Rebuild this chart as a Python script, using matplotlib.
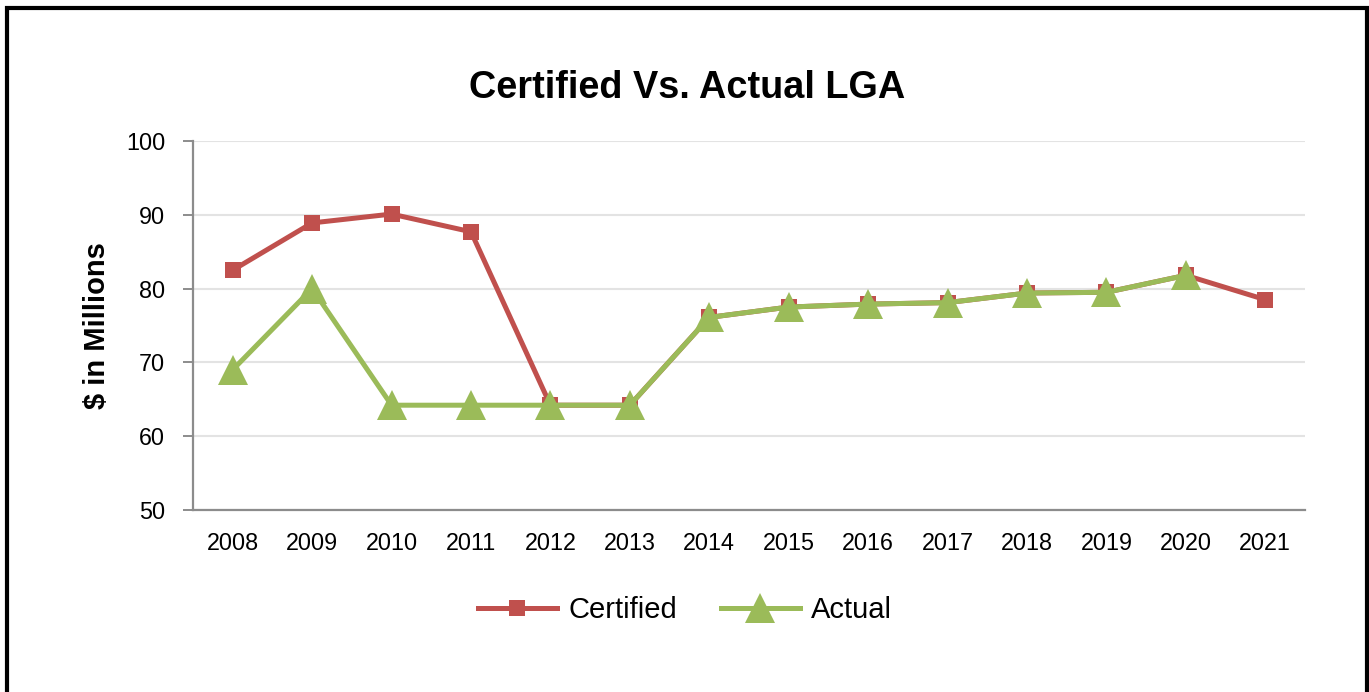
import matplotlib
matplotlib.use("Agg")
import matplotlib.pyplot as plt
from matplotlib.patches import Rectangle

plt.rcParams['font.family'] = ['Liberation Sans', 'DejaVu Sans']

years = ['2008', '2009', '2010', '2011', '2012', '2013', '2014',
         '2015', '2016', '2017', '2018', '2019', '2020', '2021']
certified = [82.5, 88.9, 90.1, 87.7, 64.2, 64.2, 76.1,
             77.5, 77.9, 78.1, 79.4, 79.5, 81.8, 78.5]
actual = [69.0, 80.0, 64.2, 64.2, 64.2, 64.2, 76.1,
          77.5, 77.9, 78.1, 79.4, 79.5, 81.8]
y_ticks = [50, 60, 70, 80, 90, 100]

W, H, DPI = 1369, 692, 100
fig = plt.figure(figsize=(W / DPI, H / DPI), dpi=DPI)
fig.patch.set_facecolor('white')

ax = fig.add_axes([193 / W, 1 - 510 / H, (1305 - 193) / W, (510 - 141) / H])

red = '#C0504D'
green = '#9BBB59'

x_c = list(range(len(certified)))
x_a = list(range(len(actual)))
ax.plot(x_c, certified, color=red, lw=3.6, marker='s', markersize=11,
        markeredgewidth=0, label='Certified', zorder=3)
ax.plot(x_a, actual, color=green, lw=3.6, marker='^', markersize=22,
        markeredgewidth=0, label='Actual', zorder=4)

ax.set_xlim(-0.5, len(years) - 0.5)
ax.set_ylim(50, 100)
ax.set_yticks(y_ticks)
ax.set_xticks(range(len(years)))
ax.set_xticklabels(years)
ax.grid(axis='y', color='#E3E3E3', lw=1.5, zorder=0)
ax.set_axisbelow(True)

for s in ['top', 'right']:
    ax.spines[s].set_visible(False)
for s in ['left', 'bottom']:
    ax.spines[s].set_color('#8C8C8C')
    ax.spines[s].set_linewidth(1.6)

ax.tick_params(axis='y', length=7, width=1.4, color='#8C8C8C', pad=13,
               labelsize=16.8)
ax.tick_params(axis='x', length=0, pad=16, labelsize=16.8)

ax.set_ylabel('$ in Millions', fontsize=21, fontweight='bold', labelpad=11)

fig.text(687 / W, 1 - 88 / H, 'Certified Vs. Actual LGA', fontsize=27.3,
         fontweight='bold', ha='center', va='center')

leg = fig.legend(loc='center', bbox_to_anchor=(685 / W, 1 - 610 / H), ncol=2,
                 frameon=False, fontsize=21, handlelength=2.7,
                 handletextpad=0.4, columnspacing=1.5, markerscale=1.0)

# outer black frame (no bottom edge visible)
fig.add_artist(Rectangle((7 / W, -0.05), (1367 - 7) / W, 1.05 - 7.5 / H,
                         transform=fig.transFigure, fill=False,
                         edgecolor='black', lw=3, zorder=10))

fig.savefig('out.png', dpi=DPI, facecolor='white')
